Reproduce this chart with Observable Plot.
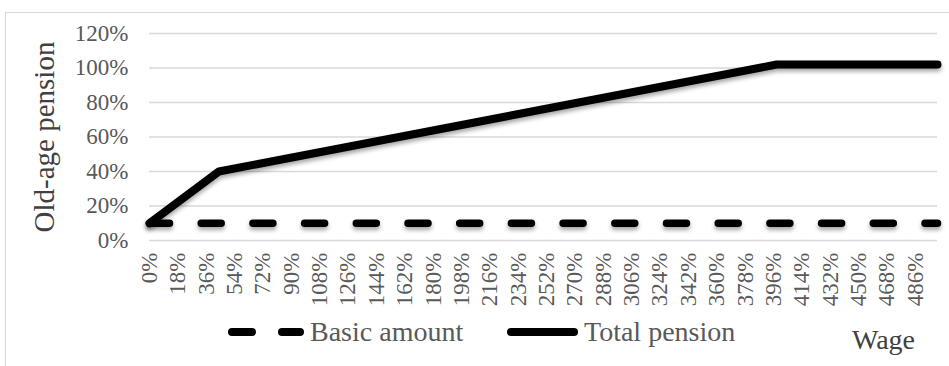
<!DOCTYPE html>
<html>
<head>
<meta charset="utf-8">
<script src="https://cdn.jsdelivr.net/npm/d3@7"></script>
<script src="https://cdn.jsdelivr.net/npm/@observablehq/plot@0.6"></script>
<style>
  html, body { margin: 0; padding: 0; background: #fff; }
  #wrap { position: relative; width: 949px; height: 366px; overflow: hidden; font-family: "Liberation Serif", "Times New Roman", serif; }
  #border { position: absolute; left: 5px; top: 12px; width: 960px; height: 400px; border: 1.5px solid #d9d9d9; box-sizing: border-box; }
  #chart { position: absolute; left: 0; top: 0; }
  #legend { position: absolute; left: 0; top: 310px; width: 949px; height: 56px; }
  .lg { position: absolute; font-size: 28px; color: #595959; line-height: 1; white-space: nowrap; }
  .sw { position: absolute; }
</style>
</head>
<body>
<div id="wrap">
  <div id="border"></div>
  <div id="chart"></div>
  <div id="legend">
    <svg class="sw" style="left:222px; top:12px" width="90" height="20">
      <line x1="10" y1="10" x2="78" y2="10" stroke="#000" stroke-width="8" stroke-linecap="round" stroke-dasharray="20 30"></line>
    </svg>
    <div class="lg" style="left:310px; top:8px">Basic amount</div>
    <svg class="sw" style="left:500px; top:12px" width="90" height="20">
      <line x1="11" y1="10" x2="74" y2="10" stroke="#000" stroke-width="8" stroke-linecap="round"></line>
    </svg>
    <div class="lg" style="left:584px; top:8px">Total pension</div>
    <div class="lg" style="left:852px; top:16px; color:#404040">Wage</div>
  </div>
</div>
<script>
// Data
const wageTicks = [0,18,36,54,72,90,108,126,144,162,180,198,216,234,252,270,288,306,324,342,360,378,396,414,432,450,468,486];
const pensionTicks = [0,20,40,60,80,100,120];

const basicWage = [0, 500];
const basicAmount = [10, 10];

const totalWage = [0, 44, 398, 500];
const totalPension = [10, 40, 102, 102];

const basicData = basicWage.map((w, i) => ({wage: w, value: basicAmount[i]}));
const totalData = totalWage.map((w, i) => ({wage: w, value: totalPension[i]}));

const chart = Plot.plot({
  width: 949,
  height: 310,
  marginLeft: 149,
  marginRight: 12,
  marginTop: 33,
  marginBottom: 70,
  style: { fontFamily: "'Liberation Serif', 'Times New Roman', serif", fontSize: "23px", color: "#595959", background: "transparent" },
  x: { domain: [0, 500], label: null },
  y: { domain: [0, 120], label: null },
  marks: [
    Plot.gridY(pensionTicks, { stroke: "#d9d9d9", strokeOpacity: 1, strokeWidth: 1.5 }),
    Plot.axisY(pensionTicks, { tickFormat: d => d + "%", tickSize: 0, tickPadding: 21, fontSize: 23 }),
    Plot.axisX(wageTicks, { tickFormat: d => d + "%", tickSize: 0, tickPadding: 12, tickRotate: -90, fontSize: 23 }),
    Plot.text(["Old-age pension"], { frameAnchor: "left", dx: -105, rotate: -90, textAnchor: "middle", fontSize: 29, fill: "#404040" }),
    Plot.line(basicData, { x: "wage", y: "value", stroke: "#000", strokeWidth: 7.5, strokeDasharray: "20 31.7", strokeLinecap: "round" }),
    Plot.line(totalData, { x: "wage", y: "value", stroke: "#000", strokeWidth: 8, strokeLinecap: "round", strokeLinejoin: "round" })
  ]
});

// soft drop shadow like the original
const svg = d3.select(chart);
const defs = svg.insert("defs", ":first-child");
const f = defs.append("filter").attr("id", "sh")
  .attr("filterUnits", "userSpaceOnUse")
  .attr("x", 0).attr("y", 0).attr("width", 949).attr("height", 310);
f.append("feDropShadow").attr("dx", 0).attr("dy", 3).attr("stdDeviation", 2).attr("flood-color", "#000").attr("flood-opacity", 0.35);
svg.selectAll('g[aria-label="line"]').attr("filter", "url(#sh)");

document.getElementById("chart").appendChild(chart);
</script>
</body>
</html>
